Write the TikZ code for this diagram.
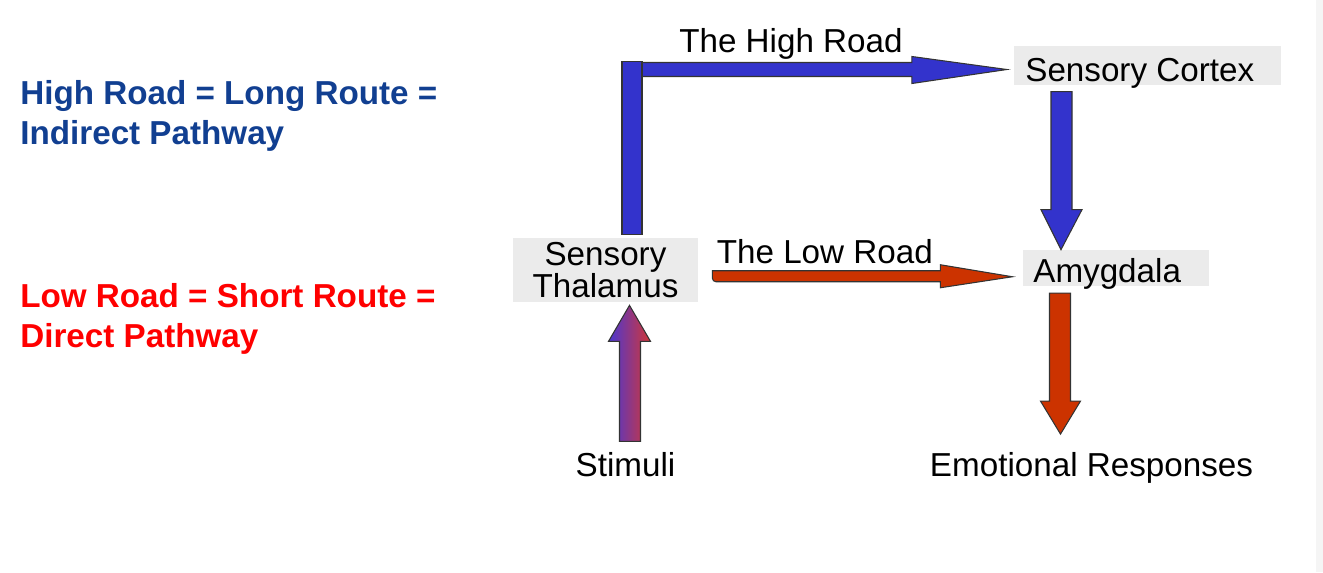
\documentclass[tikz,border=0pt]{standalone}
\usepackage{fontspec}
\setmainfont{Liberation Sans}
\usepackage{tikz}
\usetikzlibrary{positioning,calc}

\definecolor{roadblue}{HTML}{3333CC}
\definecolor{roadred}{HTML}{CC3300}
\definecolor{boxgrey}{HTML}{EBEBEB}
\definecolor{noteblue}{HTML}{113F91}
\definecolor{notered}{HTML}{FF0000}
\definecolor{stimblue}{RGB}{75,55,210}
\definecolor{stimred}{RGB}{210,55,55}

\begin{document}
\begin{tikzpicture}[x=0.02cm, y=-0.02cm,
      label/.style = {inner sep=0pt, font=\fontsize{18.9}{17.6}\selectfont},
      note/.style = {inner sep=0pt, align=left, anchor=north west,
         font=\fontsize{18.9}{22.7}\selectfont\bfseries},
      greybox/.style = {fill=boxgrey, inner sep=0pt},
      highroad/.style = {fill=roadblue, draw=black!80, line width=0.6pt},
      lowroad/.style = {fill=roadred, draw=black!80, line width=0.6pt},
      stimarrow/.style = {left color=stimblue, right color=stimred,
         draw=black!80, line width=0.6pt}]

   \useasboundingbox (0,0) rectangle (1323,572);
   \fill[black!4] (1316,0) rectangle (1323,572);

   % notes on the left
   \node[note, text=noteblue] (highnote) at (20,80)
      {High Road = Long Route =\\Indirect Pathway};
   \node[note, text=notered] (lownote) at (20,283)
      {Low Road = Short Route =\\Direct Pathway};

   % boxes
   \node[greybox, label, align=center, minimum width=3.7cm,
      minimum height=1.28cm] (thal) at (605.5,270) {Sensory\\Thalamus};
   \node[greybox, minimum width=5.33cm, minimum height=0.78cm]
      (cortex) at (1147.5,65.5) {};
   \node[greybox, minimum width=3.73cm, minimum height=0.71cm]
      (amyg) at (1116,267.75) {};

   \node[label, anchor=base west] (cortextext) at (1025,81) {Sensory Cortex};
   \node[label, anchor=base west] (amygtext) at (1033,282) {Amygdala};

   % ends
   \node[label, anchor=base] (stim) at (625.5,476.5) {Stimuli};
   \node[label, anchor=base] (emo) at (1091.5,476.5) {Emotional Responses};

   % road labels
   \node[label, anchor=base] (hightext) at (791,52) {The High Road};
   \node[label, anchor=base west] (lowtext) at (716.5,263) {The Low Road};

   % high road
   \coordinate (hightip) at ($(cortex.west)+(-7,4)$);
   \filldraw[highroad] (hightip) -- ++(-95,-13) -- ++(0,6) -- ++(-280,0)
      -- ++(0,14) -- ++(280,0) -- ++(0,7) -- cycle;
   \filldraw[highroad] ($(thal.north)+(16.5,-3)$) rectangle ++(20,-173);

   % cortex to amygdala
   \coordinate (amygtip) at ($(amyg.north)+(-55,0)$);
   \filldraw[highroad] (amygtip) -- ++(-20,-40) -- ++(10,0) -- ++(0,-118)
      -- ++(21,0) -- ++(0,118) -- ++(10,0) -- cycle;

   % low road
   \coordinate (lowtip) at ($(amyg.west)+(-10,9)$);
   \filldraw[lowroad] (lowtip) -- ++(-72,-12) -- ++(0,6) -- ++(-228,0)
      [rounded corners=2pt] -- ++(0,11) [sharp corners] -- ++(228,0)
      -- ++(0,6) -- cycle;

   % amygdala to responses
   \coordinate (emotip) at ($(emo.north)+(-31,-18)$);
   \filldraw[lowroad] (emotip) -- ++(-20,-33) -- ++(9,0) -- ++(0,-108)
      -- ++(21,0) -- ++(0,108) -- ++(10,0) -- cycle;

   % stimuli to thalamus
   \coordinate (stimtip) at ($(thal.south)+(24,3)$);
   \draw[stimarrow] (stimtip) -- ++(21,36) -- ++(-10,0) -- ++(0,100)
      -- ++(-21,0) -- ++(0,-100) -- ++(-11,0) -- cycle;

\end{tikzpicture}
\end{document}
